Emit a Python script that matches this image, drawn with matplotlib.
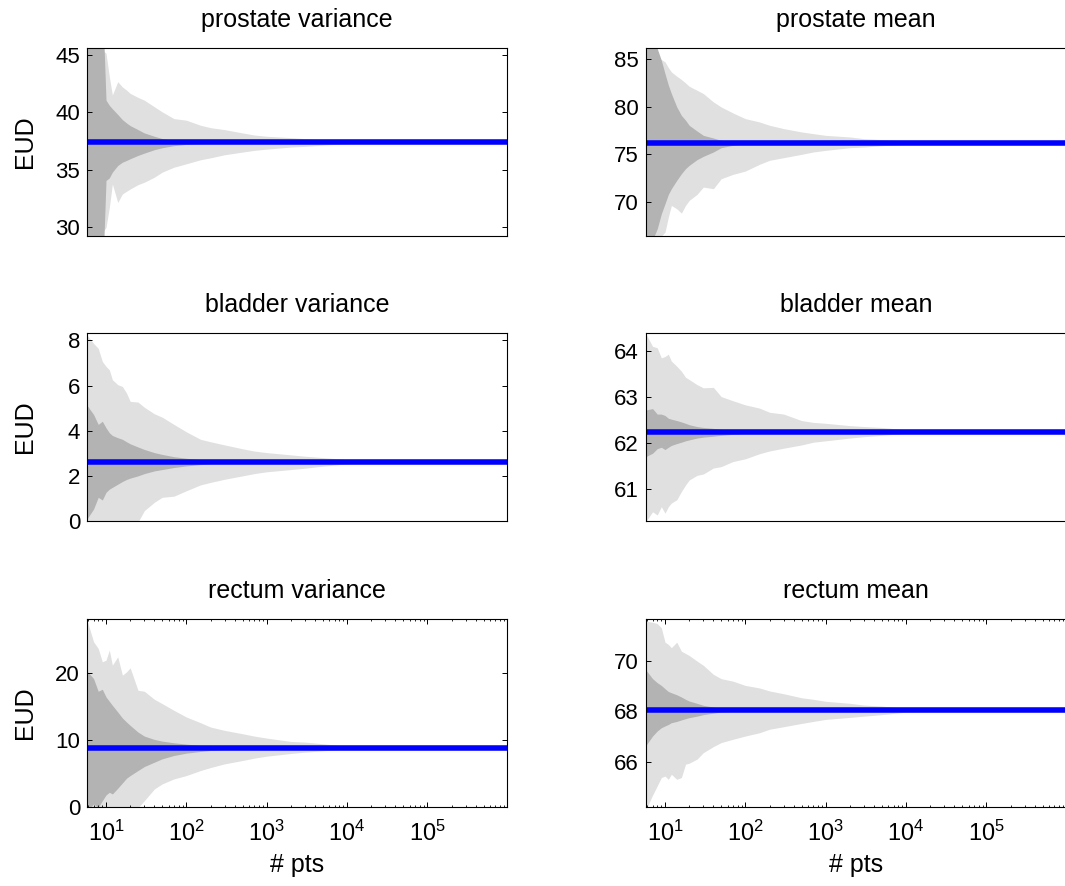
import matplotlib
matplotlib.use('Agg')
import matplotlib.pyplot as plt

plt.rcParams['font.family'] = ['Liberation Sans', 'DejaVu Sans']

# sample sizes (# pts) shared by all panels
N = [5.8, 7, 8, 9, 10, 11, 12, 14, 16, 18, 20, 25, 30, 40, 50, 70, 100, 150, 200,
     300, 500, 700, 1000, 2000, 3000, 5000, 1e4, 3e4, 1e5, 9.8e5]
XLIM = (5.8, 9.8e5)

# prostate variance
PV_CENTER = 37.37
PV_DARK_HI = [50, 50, 50, 50, 41.05, 40.6, 40.3, 39.8, 39.35, 39.06,
              38.83, 38.48, 38.19, 37.9, 37.7, 37.54, 37.49, 37.45, 37.43, 37.41,
              37.4, 37.39, 37.39, 37.38, 37.38, 37.38, 37.37, 37.37, 37.37, 37.37]
PV_DARK_LO = [25, 25, 25, 25, 34.04, 34.27, 34.77, 35.35, 35.64, 35.79,
              35.94, 36.23, 36.43, 36.73, 36.9, 37.08, 37.19, 37.25, 37.28, 37.31,
              37.33, 37.34, 37.35, 37.36, 37.36, 37.36, 37.37, 37.37, 37.37, 37.37]
PV_LIGHT_HI = [48, 47, 46, 45.4, 45.15, 43.1, 41.5, 42.66, 42.2, 41.93,
               41.64, 41.29, 41.05, 40.47, 40.03, 39.44, 39.3, 38.86, 38.65, 38.48,
               38.19, 38.01, 37.9, 37.78, 37.69, 37.6, 37.5, 37.42, 37.39, 37.38]
PV_LIGHT_LO = [28, 28.5, 29, 29.5, 29.94, 31.7, 33.74, 32.13, 32.87, 33.1,
               33.3, 33.68, 33.89, 34.33, 34.77, 35.2, 35.5, 35.85, 36.02, 36.29,
               36.52, 36.67, 36.78, 36.96, 37.02, 37.13, 37.25, 37.32, 37.35, 37.36]

# prostate mean
PM_CENTER = 76.23
PM_DARK_HI = [90, 88, 86.15, 84.9, 83.5, 82.3, 81.4, 80.0, 79.1, 78.6,
              78.06, 77.46, 77.0, 76.72, 76.48, 76.4, 76.32, 76.28, 76.26, 76.25,
              76.24, 76.24, 76.23, 76.23, 76.23, 76.23, 76.23, 76.23, 76.23, 76.23]
PM_DARK_LO = [60, 66.0, 67.16, 68.74, 69.8, 70.78, 71.38, 72.26, 72.96, 73.49,
              73.84, 74.44, 74.79, 75.25, 75.7, 75.95, 76.1, 76.16, 76.19, 76.2,
              76.21, 76.22, 76.22, 76.23, 76.23, 76.23, 76.23, 76.23, 76.23, 76.23]
PM_LIGHT_HI = [88, 87, 85.27, 84.99, 84.74, 84.14, 83.68, 83.23, 82.88, 82.52,
               82.17, 81.75, 81.4, 80.52, 79.99, 79.36, 78.76, 78.41, 78.06, 77.71,
               77.36, 77.18, 77.0, 76.83, 76.65, 76.55, 76.4, 76.3, 76.26, 76.24]
PM_LIGHT_LO = [60, 65, 66.3, 66.4, 66.8, 68.39, 69.62, 69.27, 68.81, 69.62,
               70.15, 70.78, 71.55, 71.38, 72.43, 72.89, 73.24, 73.95, 74.37, 74.65,
               75.0, 75.25, 75.42, 75.7, 75.77, 75.91, 76.05, 76.16, 76.2, 76.22]

# bladder variance
BV_CENTER = 2.63
BV_DARK_HI = [5.13, 4.72, 4.28, 4.42, 4.13, 3.91, 3.79, 3.69, 3.62, 3.51,
              3.42, 3.28, 3.17, 3.03, 2.95, 2.85, 2.78, 2.72, 2.7, 2.68,
              2.66, 2.65, 2.65, 2.64, 2.64, 2.64, 2.63, 2.63, 2.63, 2.63]
BV_DARK_LO = [0.09, 0.53, 1.05, 0.93, 1.27, 1.41, 1.49, 1.63, 1.75, 1.84,
              1.9, 2.0, 2.1, 2.22, 2.28, 2.37, 2.44, 2.5, 2.54, 2.57,
              2.59, 2.6, 2.61, 2.62, 2.62, 2.62, 2.63, 2.63, 2.63, 2.63]
BV_LIGHT_HI = [8.24, 7.87, 7.65, 7.07, 6.85, 6.7, 6.26, 6.04, 5.96, 5.67,
               5.3, 5.27, 5.04, 4.75, 4.6, 4.28, 3.95, 3.62, 3.51, 3.37,
               3.2, 3.1, 3.03, 2.93, 2.87, 2.81, 2.72, 2.67, 2.65, 2.64]
BV_LIGHT_LO = [-1.5, -1.2, -1.0, -0.9, -0.8, -0.7, -0.6, -0.5, -0.4, -0.3,
               -0.2, -0.05, 0.46, 0.83, 1.05, 1.1, 1.34, 1.6, 1.71, 1.85,
               2.0, 2.1, 2.18, 2.28, 2.34, 2.43, 2.53, 2.59, 2.61, 2.62]

# bladder mean
BM_CENTER = 62.25
BM_DARK_HI = [62.72, 62.75, 62.63, 62.63, 62.6, 62.54, 62.52, 62.49, 62.46, 62.43,
              62.4, 62.36, 62.34, 62.32, 62.3, 62.28, 62.27, 62.26, 62.26, 62.25,
              62.25, 62.25, 62.25, 62.25, 62.25, 62.25, 62.25, 62.25, 62.25, 62.25]
BM_DARK_LO = [61.71, 61.78, 61.88, 61.91, 61.86, 61.91, 61.95, 61.99, 62.02, 62.05,
              62.07, 62.11, 62.13, 62.15, 62.17, 62.19, 62.21, 62.22, 62.23, 62.24,
              62.24, 62.25, 62.25, 62.25, 62.25, 62.25, 62.25, 62.25, 62.25, 62.25]
BM_LIGHT_HI = [64.37, 64.1, 64.07, 63.85, 63.88, 63.93, 63.78, 63.67, 63.56, 63.43,
               63.38, 63.27, 63.2, 63.21, 63.01, 62.92, 62.83, 62.76, 62.67, 62.63,
               62.49, 62.45, 62.43, 62.38, 62.36, 62.34, 62.29, 62.27, 62.26, 62.25]
BM_LIGHT_LO = [60.3, 60.51, 60.44, 60.62, 60.48, 60.62, 60.7, 60.77, 60.95, 61.09,
               61.2, 61.3, 61.33, 61.46, 61.49, 61.6, 61.66, 61.77, 61.83, 61.89,
               61.96, 62.02, 62.05, 62.11, 62.14, 62.17, 62.21, 62.23, 62.24, 62.25]

# rectum variance
RV_CENTER = 8.85
RV_DARK_HI = [20.3, 19.2, 17.3, 17.6, 16.45, 15.8, 15.2, 14.2, 13.3, 12.7,
              12.2, 11.2, 10.6, 10.1, 9.85, 9.6, 9.4, 9.2, 9.1, 9.0,
              8.95, 8.92, 8.9, 8.88, 8.87, 8.86, 8.86, 8.85, 8.85, 8.85]
RV_DARK_LO = [-0.5, 0.45, -0.05, 0.95, 1.8, 2.2, 1.95, 2.8, 3.6, 4.3,
              4.7, 5.45, 6.05, 6.7, 7.2, 7.7, 8.05, 8.3, 8.45, 8.6,
              8.7, 8.75, 8.78, 8.81, 8.82, 8.83, 8.84, 8.85, 8.85, 8.85]
RV_LIGHT_HI = [27.95, 24.7, 23.7, 21.7, 21.95, 23.45, 21.2, 22.45, 19.7, 20.2,
               20.8, 17.45, 17.3, 16.1, 15.45, 14.45, 13.45, 12.6, 11.95, 11.45,
               10.95, 10.6, 10.3, 9.8, 9.7, 9.45, 9.1, 8.95, 8.9, 8.87]
RV_LIGHT_LO = [-3, -2.5, -2, -2, -1.5, -1.5, -1, -1, -0.8, -0.5,
               -0.3, -0.1, 0.95, 2.7, 3.45, 4.2, 4.7, 5.45, 5.9, 6.45,
               6.95, 7.3, 7.6, 8.0, 8.2, 8.4, 8.65, 8.78, 8.82, 8.84]

# rectum mean
RM_CENTER = 68.05
RM_DARK_HI = [69.64, 69.3, 69.14, 69.03, 68.9, 68.79, 68.74, 68.66, 68.57, 68.48,
              68.41, 68.32, 68.24, 68.17, 68.12, 68.09, 68.07, 68.06, 68.06, 68.05,
              68.05, 68.05, 68.05, 68.05, 68.05, 68.05, 68.05, 68.05, 68.05, 68.05]
RM_DARK_LO = [66.65, 67.02, 67.22, 67.35, 67.42, 67.48, 67.55, 67.6, 67.66, 67.71,
              67.75, 67.81, 67.87, 67.93, 67.97, 68.0, 68.02, 68.03, 68.04, 68.04,
              68.05, 68.05, 68.05, 68.05, 68.05, 68.05, 68.05, 68.05, 68.05, 68.05]
RM_LIGHT_HI = [71.58, 71.54, 71.49, 71.32, 70.75, 70.66, 70.53, 70.75, 70.39, 70.3,
               70.22, 70.0, 69.83, 69.47, 69.3, 69.2, 69.03, 68.93, 68.81, 68.7,
               68.54, 68.48, 68.4, 68.32, 68.25, 68.21, 68.12, 68.08, 68.06, 68.05]
RM_LIGHT_LO = [64.1, 64.67, 65.04, 65.37, 65.43, 65.3, 65.5, 65.3, 65.37, 65.9,
               65.94, 66.1, 66.36, 66.6, 66.76, 66.89, 67.02, 67.15, 67.29, 67.39,
               67.52, 67.6, 67.68, 67.76, 67.81, 67.87, 67.97, 68.01, 68.03, 68.04]

TITLES = ['prostate variance', 'prostate mean', 'bladder variance',
          'bladder mean', 'rectum variance', 'rectum mean']
YLIMS = [(29.2, 45.6), (66.4, 86.2), (0, 8.33), (60.31, 64.39), (0, 28.1), (64.2, 71.67)]
YTICKS = [[30, 35, 40, 45], [70, 75, 80, 85], [0, 2, 4, 6, 8],
          [61, 62, 63, 64], [0, 10, 20], [66, 68, 70]]

panels = [
    (PV_CENTER, PV_DARK_LO, PV_DARK_HI, PV_LIGHT_LO, PV_LIGHT_HI),
    (PM_CENTER, PM_DARK_LO, PM_DARK_HI, PM_LIGHT_LO, PM_LIGHT_HI),
    (BV_CENTER, BV_DARK_LO, BV_DARK_HI, BV_LIGHT_LO, BV_LIGHT_HI),
    (BM_CENTER, BM_DARK_LO, BM_DARK_HI, BM_LIGHT_LO, BM_LIGHT_HI),
    (RV_CENTER, RV_DARK_LO, RV_DARK_HI, RV_LIGHT_LO, RV_LIGHT_HI),
    (RM_CENTER, RM_DARK_LO, RM_DARK_HI, RM_LIGHT_LO, RM_LIGHT_HI),
]

W, H = 1065, 886
fig = plt.figure(figsize=(W / 100, H / 100), dpi=100)

# axes boxes in pixels: left column / right column, three rows
col_left = [87, 646]
row_bottom = [236, 521, 807]
ax_w, ax_h = 420, 188

for i, (center, dlo, dhi, llo, lhi) in enumerate(panels):
    row, col = divmod(i, 2)
    ax = fig.add_axes([col_left[col] / W, 1 - row_bottom[row] / H, ax_w / W, ax_h / H])
    ax.fill_between(N, llo, lhi, color=(0.88, 0.88, 0.88), linewidth=0)
    ax.fill_between(N, dlo, dhi, color=(0.7, 0.7, 0.7), linewidth=0)
    ax.axhline(center, color='#0000ff', linewidth=4)

    ax.set_xscale('log')
    ax.set_xlim(*XLIM)
    ax.set_ylim(*YLIMS[i])
    ax.set_yticks(YTICKS[i])
    ax.set_title(TITLES[i], fontsize=18, pad=15)
    for sp in ax.spines.values():
        sp.set_linewidth(0.8)

    # right column runs off the edge of the figure, so its right side is not seen
    ax.tick_params(axis='y', direction='in', left=True, right=(col == 0),
                   length=3.3, width=0.7, labelsize=16, pad=5)
    ax.tick_params(axis='y', which='minor', left=False, right=False)
    if col == 1:
        ax.spines['right'].set_visible(False)
    if row < 2:
        ax.tick_params(axis='x', which='both', bottom=False, top=False,
                       labelbottom=False)
    else:
        ax.tick_params(axis='x', which='major', direction='in', top=True, bottom=True,
                       length=3.3, width=0.7, labelsize=17, pad=10)
        ax.tick_params(axis='x', which='minor', direction='in', top=True, bottom=True,
                       length=1.6, width=0.6)
        ax.set_xlabel('# pts', fontsize=18, labelpad=5)
    if col == 0:
        ax.set_ylabel('EUD', fontsize=18)
        ax.yaxis.set_label_coords(-0.12, 0.5)

fig.savefig('out.png', dpi=100)
